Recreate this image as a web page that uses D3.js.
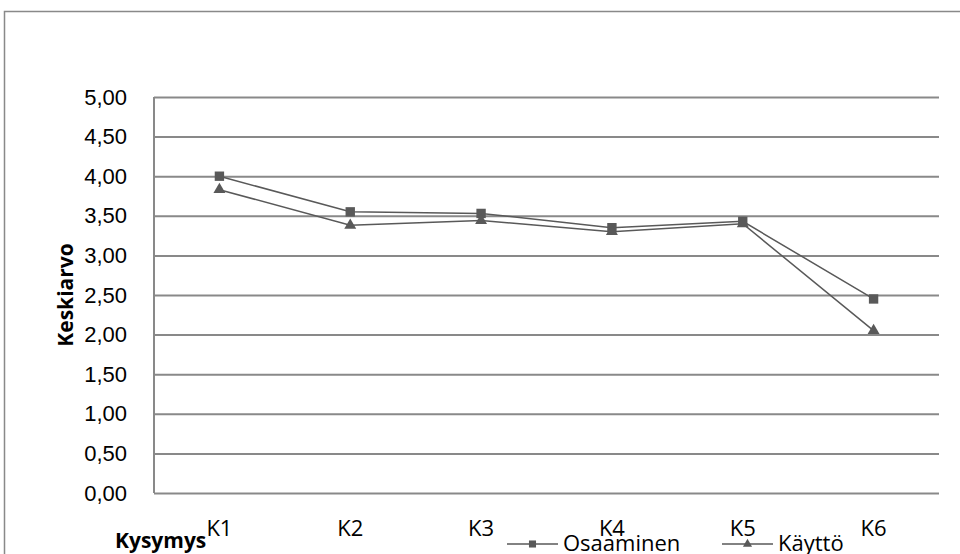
<!DOCTYPE html>
<html>
<head>
<meta charset="utf-8">
<script src="https://cdn.jsdelivr.net/npm/d3@7"></script>
<style>
  body { margin: 0; background: #fff; }
  svg { display: block; font-family: "Open Sans", sans-serif; }
</style>
</head>
<body>
<div id="chart"></div>
<script>
const categories = ['K1', 'K2', 'K3', 'K4', 'K5', 'K6'];
const osaaminen = [4.00, 3.55, 3.53, 3.35, 3.43, 2.45];
const kaytto = [3.83, 3.38, 3.44, 3.30, 3.40, 2.05];
const yTicks = [0, 0.5, 1, 1.5, 2, 2.5, 3, 3.5, 4, 4.5, 5];

const width = 960, height = 554;
const margin = { top: 97, right: 21, bottom: 61, left: 154 };
const grey = '#898989', dark = '#595959';

const svg = d3.select('#chart').append('svg')
    .attr('width', width)
    .attr('height', height);

// chart frame
svg.append('rect')
    .attr('x', 4.5).attr('y', 11.5)
    .attr('width', width).attr('height', height)
    .attr('fill', 'none')
    .attr('stroke', grey)
    .attr('stroke-width', 1.5);

const x = d3.scalePoint()
    .domain(categories)
    .range([margin.left, width - margin.right])
    .padding(0.5);

const y = d3.scaleLinear()
    .domain([0, 5])
    .range([height - margin.bottom, margin.top]);

const fmt = d => d.toFixed(2).replace('.', ',');

// gridlines + y labels
const yAxis = svg.append('g')
    .attr('transform', `translate(${margin.left},0)`)
    .call(d3.axisLeft(y).tickValues(yTicks).tickFormat(fmt)
        .tickSize(-(width - margin.left - margin.right)).tickPadding(27));
yAxis.select('.domain').remove();
yAxis.selectAll('.tick line').attr('stroke', grey).attr('stroke-width', 2);
yAxis.selectAll('.tick text')
    .attr('fill', '#000')
    .style('font-size', '22px');

// axis line
svg.append('line')
    .attr('x1', margin.left).attr('x2', margin.left)
    .attr('y1', y(5)).attr('y2', y(0))
    .attr('stroke', grey).attr('stroke-width', 2);

// x labels
svg.append('g').selectAll('text')
    .data(categories)
    .join('text')
    .attr('x', d => x(d))
    .attr('y', 536)
    .attr('text-anchor', 'middle')
    .style('font-size', '22px')
    .text(d => d);

// axis titles
svg.append('text')
    .attr('transform', `translate(73,${(y(5) + y(0)) / 2}) rotate(-90)`)
    .attr('text-anchor', 'middle')
    .style('font-size', '21px')
    .style('font-weight', 'bold')
    .text('Keskiarvo');

svg.append('text')
    .attr('x', 115).attr('y', 548)
    .style('font-size', '21px')
    .style('font-weight', 'bold')
    .text('Kysymys');

const line = d3.line()
    .x((d, i) => x(categories[i]))
    .y(d => y(d));

const series = [
    { name: 'Osaaminen', values: osaaminen, symbol: d3.symbolSquare, size: 88, legendSize: 50 },
    { name: 'Käyttö', values: kaytto, symbol: d3.symbolTriangle, size: 62, legendSize: 36 }
];

series.forEach(s => {
    svg.append('path')
        .datum(s.values)
        .attr('d', line)
        .attr('fill', 'none')
        .attr('stroke', dark)
        .attr('stroke-width', 1.5);
    svg.append('g').selectAll('path')
        .data(s.values)
        .join('path')
        .attr('transform', (d, i) => `translate(${x(categories[i])},${y(d)})`)
        .attr('d', d3.symbol().type(s.symbol).size(s.size))
        .attr('fill', dark);
});

// legend
const legendX = [507, 722];
series.forEach((s, i) => {
    const g = svg.append('g').attr('transform', `translate(${legendX[i]},544)`);
    g.append('line')
        .attr('x1', 0).attr('x2', 51)
        .attr('stroke', dark).attr('stroke-width', 1.5);
    g.append('path')
        .attr('transform', 'translate(25.5,0)')
        .attr('d', d3.symbol().type(s.symbol).size(s.legendSize))
        .attr('fill', dark);
    g.append('text')
        .attr('x', 56).attr('y', 7)
        .style('font-size', '22px')
        .text(s.name);
});
</script>
</body>
</html>
